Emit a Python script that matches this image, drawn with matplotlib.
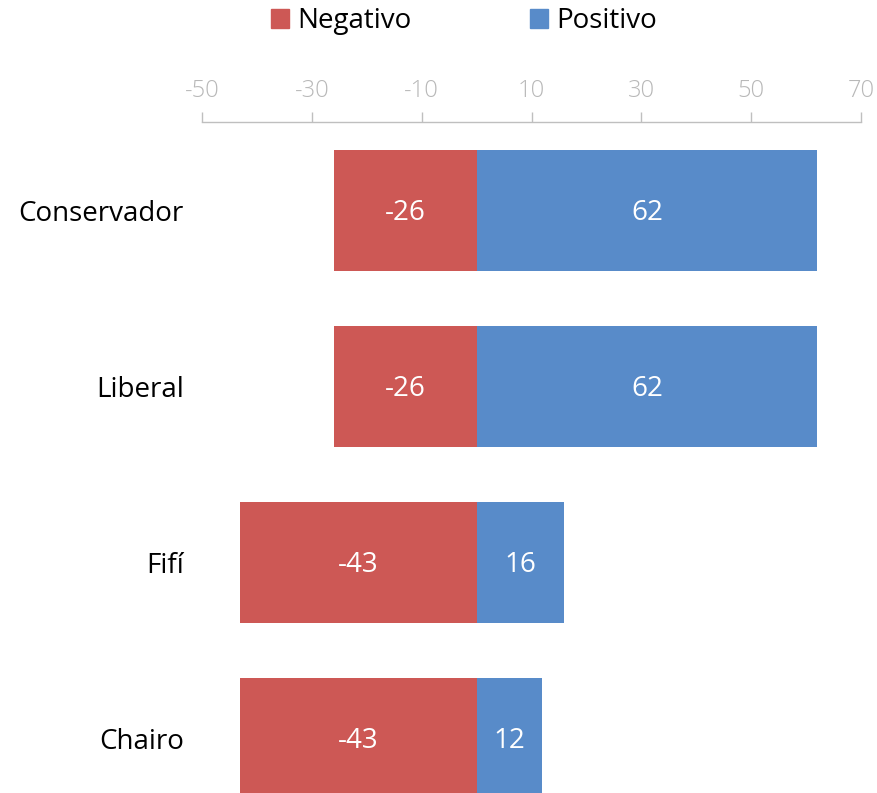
import matplotlib
matplotlib.use("Agg")
import matplotlib.pyplot as plt
from matplotlib.patches import Patch

categories = ["Conservador", "Liberal", "Fifí", "Chairo"]
negativo = [-26, -26, -43, -43]
positivo = [62, 62, 16, 12]
xticks = [-50, -30, -10, 10, 30, 50, 70]

RED = "#CD5855"
BLUE = "#588BC9"

plt.rcParams['font.family'] = ['Open Sans', 'DejaVu Sans']
plt.rcParams['axes.unicode_minus'] = False

W, H = 877, 793
fig = plt.figure(figsize=(W / 100, H / 100), dpi=100)
ax = fig.add_axes([202 / W, 0, (861 - 202) / W, (H - 122) / H])

y = list(range(len(categories)))
h = 0.6875
bn = ax.barh(y, negativo, height=h, color=RED, label="Negativo")
bp = ax.barh(y, positivo, height=h, color=BLUE, label="Positivo")
for bars, vals in ((bn, negativo), (bp, positivo)):
    for b, v in zip(bars, vals):
        ax.annotate(str(v), (b.get_x() + b.get_width() / 2, b.get_y() + b.get_height() / 2),
                    xytext=(0, -2), textcoords="offset points",
                    ha="center", va="center", color="white", fontsize=20)

ax.set_xlim(-50, 70)
ax.set_ylim(3.31, -0.503)
ax.set_xticks(xticks)
ax.xaxis.tick_top()
ax.tick_params(axis="x", direction="out", length=7, color="#BFBFBF",
               labelcolor="#B8B8B8", labelsize=17, pad=7, width=1)
for lab in ax.get_xticklabels():
    lab.set_fontweight("light")
ax.set_yticks(y)
ax.set_yticklabels(categories, fontsize=20)
ax.tick_params(axis="y", length=0, pad=13)
for s in ("left", "right", "bottom"):
    ax.spines[s].set_visible(False)
ax.spines["top"].set_color("#BFBFBF")
ax.spines["top"].set_linewidth(1)

handles = [Patch(color=RED, label="Negativo"), Patch(color=BLUE, label="Positivo")]
fig.legend(handles=handles, loc="center", bbox_to_anchor=(464 / W, 1 - 21 / H),
           ncol=2, frameon=False, fontsize=20, handlelength=0.65, handleheight=0.65,
           handletextpad=0.3, columnspacing=4.25)

fig.savefig("out.png", dpi=100)
